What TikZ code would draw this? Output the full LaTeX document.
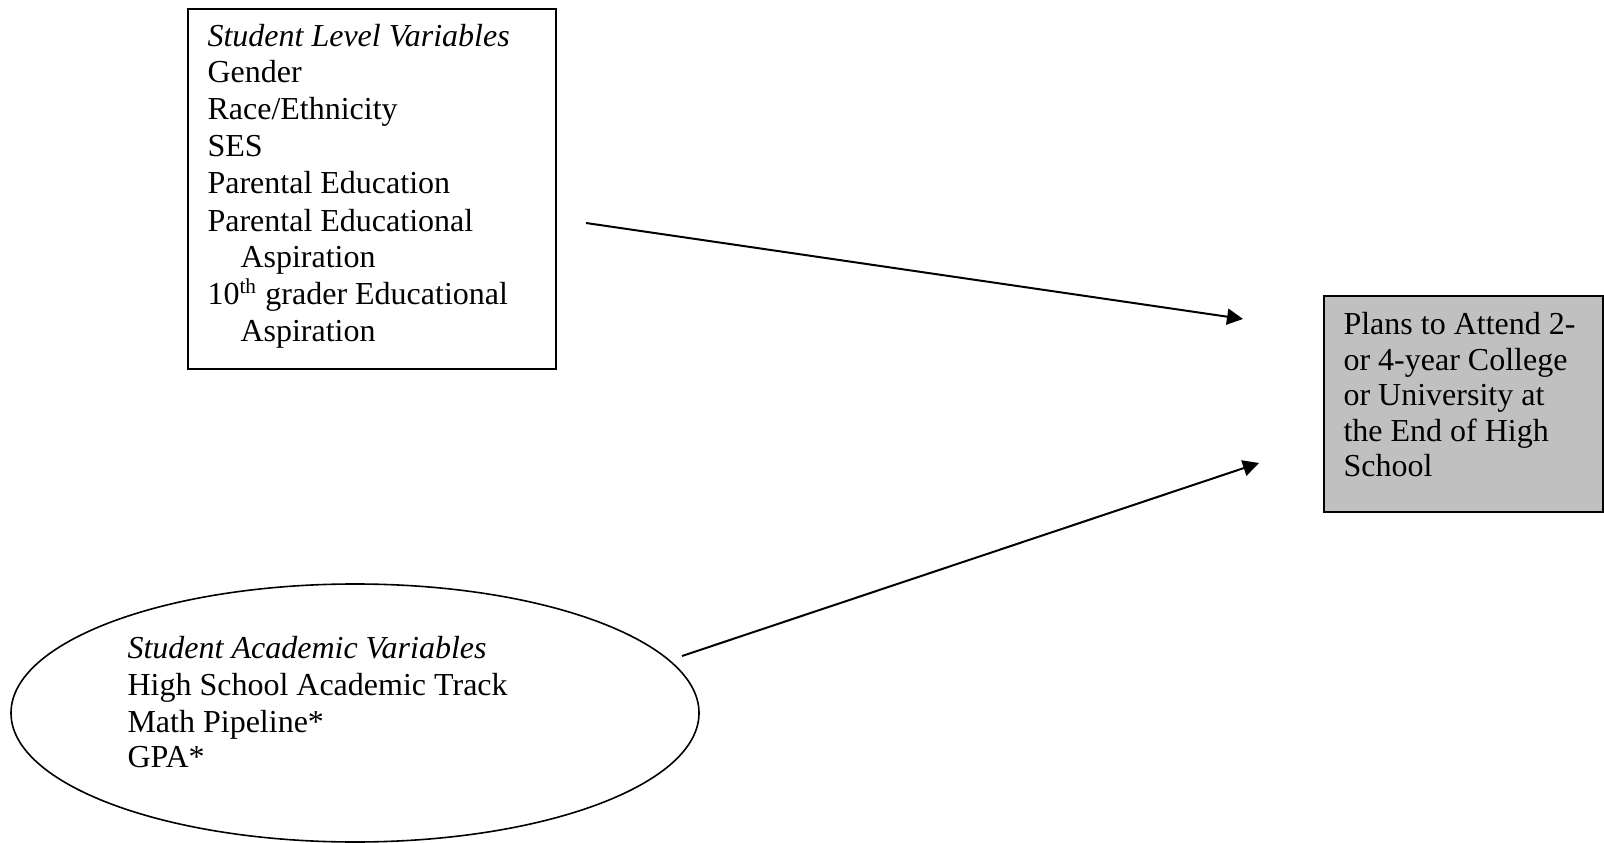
\documentclass[tikz,border=0pt]{standalone}
\usepackage{fontspec}
\setmainfont{Liberation Serif}
\usetikzlibrary{arrows.meta,shapes.geometric}
\begin{document}
\begin{tikzpicture}[x=0.375pt,y=-0.375pt,
  txt/.style={anchor=base west,inner sep=0pt,font=\fontsize{12pt}{13.8pt}\selectfont},
  frame/.style={draw=black,line width=0.6pt,inner sep=0pt},
  link/.style={draw=black,line width=0.75pt,-{Triangle[length=6pt,width=6pt]}}]
\useasboundingbox (0,0) rectangle (1604,843);
% student level box
\node[frame,anchor=north west,minimum width=138pt,minimum height=135pt] (lvl) at (187,8) {};
\node[txt] (l1) at (207,47) {\textit{Student Level Variables}};
\node[txt] (l2) at (207,83) {Gender};
\node[txt] (l3) at (207,120) {Race/Ethnicity};
\node[txt] (l4) at (207,157) {SES};
\node[txt] (l5) at (207,194) {Parental Education};
\node[txt] (l6) at (207,232) {Parental Educational};
\node[txt] (l7) at (240,268) {Aspiration};
\node[txt] (l8) at (207,305) {10\textsuperscript{th} grader Educational};
\node[txt] (l9) at (240,342) {Aspiration};
% outcome box
\node[frame,fill={rgb,255:red,192;green,192;blue,192},anchor=north west,minimum width=104.6pt,minimum height=81pt] (plan) at (1323,295) {};
\node[txt] (p1) at (1343,335) {Plans to Attend 2-};
\node[txt] (p2) at (1343,371) {or 4-year College};
\node[txt] (p3) at (1343,406) {or University at};
\node[txt] (p4) at (1343,442) {the End of High};
\node[txt] (p5) at (1343,477) {School};
% academic ellipse
\node[frame,ellipse,minimum width=258pt,minimum height=96.75pt] (acad) at (355,713) {};
\node[txt] (a1) at (127,658) {\textit{Student Academic Variables}};
\node[txt] (a2) at (127,695) {High School Academic Track};
\node[txt] (a3) at (127,732) {Math Pipeline*};
\node[txt] (a4) at (127,767) {GPA*};
% connectors
\coordinate (s1) at (586,223);
\coordinate (e1) at (1243,319);
\coordinate (s2) at (682,656);
\coordinate (e2) at (1259,463);
\draw[link] (s1) -- (e1);
\draw[link] (s2) -- (e2);
\end{tikzpicture}
\end{document}
